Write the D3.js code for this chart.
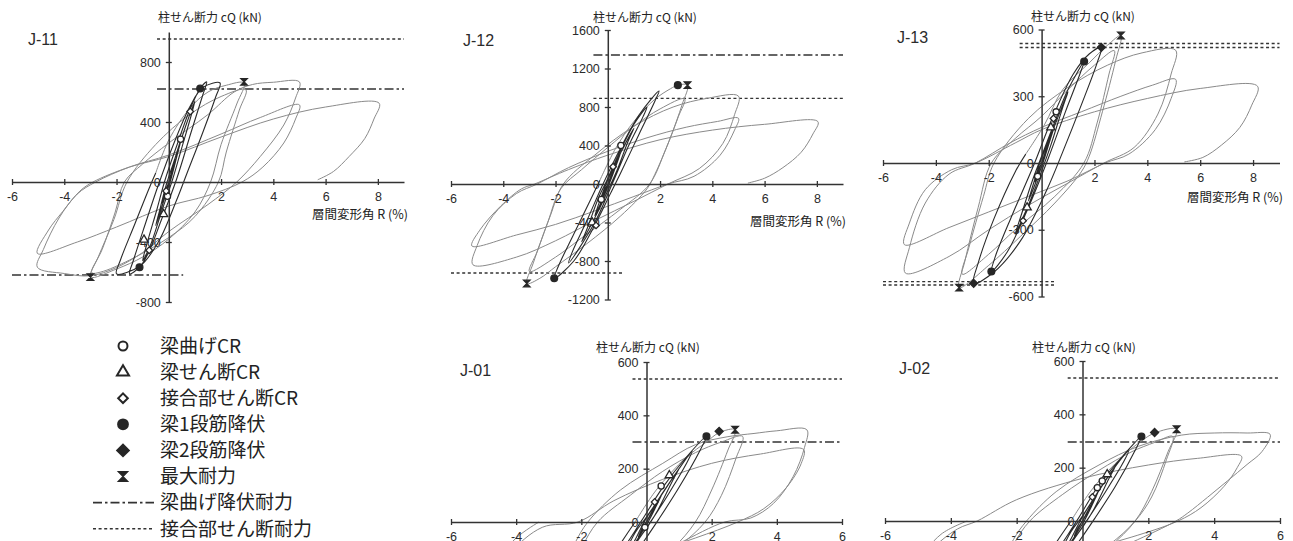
<!DOCTYPE html>
<html>
<head>
<meta charset="utf-8">
<script src="https://cdn.jsdelivr.net/npm/d3@7"></script>
<style>
  html, body { margin: 0; padding: 0; background: #fff; overflow: hidden; }
  svg { display: block; }
  .num { font-family: "Liberation Sans", Arial, sans-serif; fill: #2b2b2b; }
  .jp { font-family: "Noto Sans CJK JP", "Noto Sans", sans-serif; fill: #222; }
</style>
</head>
<body>
<svg id="chart" width="1293" height="541"></svg>
<script>
// ---- data: story drift R (%) vs column shear cQ (kN) ----
const panelNames = ["J-11", "J-12", "J-13", "J-01", "J-02"];
const xTicksWide = [-6, -4, -2, 2, 4, 6, 8];
const xTicksNarrow = [-6, -4, -2, 2, 4, 6];
const yTicks11 = [-800, -400, 0, 400, 800];
const yTicks12 = [-1200, -800, -400, 0, 400, 800, 1200, 1600];
const yTicks13 = [-600, -300, 0, 300, 600];
const yTicks01 = [-600, -400, -200, 0, 200, 400, 600];

const yTitle = "柱せん断力 cQ (kN)";
const xTitle = "層間変形角 R (%)";
const legendLabels = ["梁曲げCR", "梁せん断CR", "接合部せん断CR", "梁1段筋降伏", "梁2段筋降伏", "最大耐力", "梁曲げ降伏耐力", "接合部せん断耐力"];

// early (small) cycles - they overlap and read black
const j11Dark = [
  [0,0],[0.12,75],[0.25,150],[0.12,60],[0,0],[-0.12,-70],[-0.25,-140],[-0.12,-55],[0,0],
  [0.25,165],[0.5,300],[0.35,200],[0.1,30],[-0.2,-130],[-0.5,-290],[-0.35,-190],[-0.1,-20],
  [0.3,190],[0.7,400],[1.0,540],[0.85,440],[0.45,200],[0.15,20],[-0.3,-210],[-0.7,-420],[-1.0,-525],[-0.85,-420],[-0.45,-180],[-0.15,10],
  [0.3,240],[0.8,480],[1.2,623],[1.45,667],[1.3,580],[0.85,330],[0.3,20],[-0.3,-260],[-0.8,-480],[-1.12,-568],[-1.5,-612],[-1.35,-520],[-0.9,-280],[-0.4,-20],
  [0.2,260],[0.8,500],[1.3,630],[1.96,660],[1.8,570],[1.3,330],[0.7,60],[0.3,-120],[-0.4,-400],[-1.1,-560],[-2.0,-612],[-1.85,-520],[-1.3,-280],[-0.7,-20],[-0.5,60]
];
const j11Gray = [
  [-0.5,60],[0,280],[0.8,490],[1.5,600],[2.2,645],[2.88,660],[2.6,520],[2.0,250],[1.6,0],[1.0,-200],[0,-380],[-1.0,-500],[-2.0,-580],[-3.0,-634],[-2.7,-500],[-2.1,-250],[-1.6,0],
  [-0.5,250],[0.8,450],[2.0,570],[2.95,615],[2.7,480],[2.2,200],[1.9,0],[1.0,-230],[0,-370],[-1.5,-520],[-2.6,-600],[-2.95,-605],[-2.55,-450],[-2.05,-200],[-1.7,0],
  [-1.0,120],[0,260],[1.5,450],[2.5,600],[3.2,650],[4.0,665],[5.0,667],[4.85,560],[4.4,380],[3.5,170],[2.6,0],[1.5,-150],[0,-330],[-1.0,-470],[-2.0,-570],[-3.0,-625],[-4.0,-610],[-5.03,-568],[-4.8,-450],[-4.2,-240],[-3.5,-80],[-2.8,0],
  [-1.5,100],[0,180],[2.0,320],[3.5,430],[5.0,514],[4.85,420],[4.4,260],[3.6,100],[2.8,0],[1.5,-90],[0,-160],[-2,-300],[-3.5,-400],[-5.03,-476],[-4.6,-320],[-4.06,-197],[-3.4,-60],[-2.9,0],
  [-1.5,100],[0,170],[2,300],[4,420],[6,500],[8.05,525],[7.85,420],[7.5,290],[6.9,170],[6.3,70],[5.7,15]
];

const j12Dark = [
  [0,0],[0.25,180],[0.12,70],[0,0],[-0.25,-170],[-0.12,-60],[0,0],
  [0.5,330],[0.3,180],[0.05,0],[-0.5,-330],[-0.3,-170],[-0.05,10],
  [0.5,330],[1.0,580],[0.8,460],[0.35,140],[0.05,-40],[-0.4,-300],[-1.0,-600],[-0.8,-470],[-0.35,-140],[-0.05,30],
  [0.4,300],[1.0,620],[1.5,800],[1.35,700],[0.8,400],[0.2,20],[-0.5,-400],[-1.5,-820],[-1.35,-700],[-0.8,-380],[-0.2,-10],
  [0.5,380],[1.2,720],[1.96,966],[1.8,860],[1.2,520],[0.5,120],[0.1,-100],[-0.6,-480],[-1.3,-800],[-2.05,-980],[-1.9,-860],[-1.3,-520],[-0.6,-130],[-0.3,40]
];
const j12Gray = [
  [-0.3,40],[0.3,370],[1.0,650],[1.8,880],[2.4,990],[2.68,1027],[3.05,1027],[2.85,830],[2.35,450],[1.8,100],[1.5,-50],[0.5,-330],[-0.8,-620],[-2.0,-860],[-2.6,-980],[-3.1,-1034],[-2.85,-820],[-2.3,-400],[-1.8,-50],
  [-1.0,150],[0,380],[1.0,600],[2.0,780],[2.94,885],[2.7,700],[2.2,350],[1.6,0],[0.5,-260],[-1.0,-560],[-2.0,-760],[-3.0,-910],[-2.7,-700],[-2.2,-330],[-1.7,0],
  [-0.5,300],[1.0,600],[2.5,800],[3.8,890],[5.0,913],[4.85,720],[4.4,420],[3.5,160],[2.3,0],[1.0,-180],[-0.5,-380],[-2.0,-590],[-3.5,-760],[-5.16,-839],[-5.0,-640],[-4.4,-330],[-3.5,-100],[-2.7,0],
  [-1.5,170],[0,340],[1.5,480],[3.0,590],[4.2,650],[5.0,683],[4.85,560],[4.3,300],[3.3,80],[2.3,0],[1.0,-130],[-0.5,-280],[-2.0,-420],[-3.5,-530],[-5.2,-644],[-4.9,-480],[-4.1,-230],[-3.3,-50],[-2.8,0],
  [-1.5,150],[0,300],[2,460],[4,560],[6,620],[8.04,648],[7.85,520],[7.4,330],[6.7,170],[6.0,60],[5.36,10]
];

const j13Dark = [
  [0,0],[0.25,90],[0.12,35],[0,0],[-0.25,-85],[-0.12,-30],[0,0],
  [0.5,170],[0.3,95],[0.05,0],[-0.5,-170],[-0.3,-90],[-0.05,5],
  [0.5,170],[1.0,320],[0.8,250],[0.35,80],[0.05,-20],[-0.4,-160],[-1.0,-320],[-0.8,-245],[-0.35,-80],[-0.05,15],
  [0.45,170],[1.0,330],[1.61,456],[1.45,400],[0.9,230],[0.25,20],[-0.5,-200],[-1.3,-400],[-1.9,-488],[-1.75,-420],[-1.1,-230],[-0.3,-10],
  [0.4,200],[1.2,400],[1.8,490],[2.26,520],[2.1,450],[1.5,260],[0.8,50],[0.2,-120],[-0.8,-350],[-1.8,-490],[-2.57,-541],[-2.4,-450],[-1.8,-250],[-1.0,-40],[-0.6,40]
];
const j13Gray = [
  [-0.6,40],[0.1,170],[0.8,330],[1.8,450],[2.5,530],[3.0,573],[2.8,460],[2.3,230],[1.8,30],[1.5,-40],[0.5,-180],[-0.8,-330],[-2.0,-460],[-3.12,-560],[-2.9,-440],[-2.4,-200],[-1.9,0],
  [-1.0,110],[0,210],[1.0,330],[2.0,440],[2.75,505],[2.55,400],[2.1,180],[1.6,0],[0.5,-150],[-1.0,-300],[-2.0,-410],[-3.0,-500],[-2.75,-380],[-2.2,-150],[-1.8,0],
  [-0.5,200],[1.0,340],[2.5,440],[3.8,495],[5.07,507],[4.9,400],[4.4,220],[3.5,70],[2.36,0],[1.0,-90],[-0.5,-190],[-2.0,-300],[-3.5,-420],[-5.15,-495],[-5.0,-380],[-4.4,-180],[-3.5,-50],[-2.5,0],
  [-1.2,90],[0,160],[1.5,230],[3.0,300],[4.2,350],[5.07,376],[4.9,290],[4.3,150],[3.3,40],[2.4,0],[1.0,-80],[-0.5,-150],[-2.0,-220],[-3.5,-290],[-5.19,-367],[-5.0,-270],[-4.4,-120],[-3.4,-30],[-2.5,0],
  [-1.0,90],[0,150],[2,230],[4,290],[6,335],[8.17,345],[7.95,260],[7.5,160],[6.8,80],[6.1,25],[5.4,5]
];

const j01Dark = [
  [0,0],[0.25,60],[0.12,25],[0,0],[-0.25,-55],[-0.12,-22],[0,0],
  [0.5,110],[0.3,60],[0.05,0],[-0.5,-105],[-0.3,-55],[-0.05,5],
  [0.5,110],[1.0,200],[0.8,155],[0.35,45],[0.05,-15],[-0.4,-90],[-1.0,-200],[-0.8,-150],[-0.35,-40],[-0.05,10],
  [0.4,90],[1.0,200],[1.4,265],[1.25,225],[0.7,110],[0.15,5],[-0.5,-110],[-1.4,-260],[-1.25,-215],[-0.7,-100],[-0.15,5],
  [0.5,130],[1.2,240],[1.84,321],[1.65,270],[1.0,130],[0.4,15],[-0.3,-110],[-1.2,-250],[-1.84,-315],[-1.65,-260],[-1.0,-120],[-0.35,0]
];
const j01Gray = [
  [-0.35,0],[0.3,120],[1.2,240],[1.84,300],[2.23,335],[2.72,346],[2.5,270],[2.0,120],[1.5,0],[0.8,-100],[-0.5,-220],[-1.6,-300],[-2.7,-340],[-2.5,-250],[-2.0,-100],[-1.5,0],
  [-0.5,100],[0.5,190],[1.5,260],[2.3,300],[2.95,321],[2.75,240],[2.3,100],[1.8,0],[1.0,-90],[0,-170],[-1.5,-260],[-2.9,-320],[-2.7,-220],[-2.2,-80],[-1.8,0],
  [-0.8,120],[0.5,220],[1.5,290],[2.5,320],[3.3,332],[4.0,342],[4.92,346],[4.85,280],[4.5,170],[3.9,70],[3.2,15],[2.4,0],[1.0,-80],[-0.5,-170],[-2.0,-260],[-3.5,-310],[-4.9,-330],[-4.8,-250],[-4.2,-120],[-3.2,-20],[-2.1,0],
  [-1.0,80],[0.5,160],[2.0,220],[3.5,255],[4.82,272],[4.75,220],[4.3,130],[3.6,50],[2.8,0],[1.5,-60],[0,-120],[-2.0,-190],[-4.0,-240],[-5.0,-260],[-4.8,-180],[-4.0,-60],[-3.3,0]
];

const j02Dark = [
  [0,0],[0.25,60],[0.12,25],[0,0],[-0.25,-55],[-0.12,-22],[0,0],
  [0.5,115],[0.3,62],[0.05,0],[-0.5,-105],[-0.3,-55],[-0.05,5],
  [0.5,115],[1.0,205],[0.8,158],[0.35,45],[0.05,-15],[-0.4,-90],[-1.0,-200],[-0.8,-150],[-0.35,-40],[-0.05,10],
  [0.4,95],[1.0,205],[1.4,262],[1.25,222],[0.7,110],[0.15,5],[-0.5,-110],[-1.4,-255],[-1.25,-212],[-0.7,-100],[-0.15,5],
  [0.5,135],[1.2,240],[1.79,317],[1.6,265],[1.0,130],[0.4,15],[-0.3,-110],[-1.2,-250],[-1.8,-310],[-1.6,-255],[-1.0,-120],[-0.35,0]
];
const j02Gray = [
  [-0.35,0],[0.3,120],[1.2,240],[1.79,300],[2.19,330],[2.86,344],[2.6,260],[2.1,110],[1.6,0],[0.8,-100],[-0.5,-220],[-1.6,-300],[-2.8,-335],[-2.6,-240],[-2.1,-90],[-1.6,0],
  [-0.6,100],[0.5,190],[1.5,260],[2.2,295],[2.74,317],[2.55,230],[2.1,90],[1.6,0],[0.8,-90],[-0.3,-170],[-1.6,-260],[-2.8,-315],[-2.6,-210],[-2.1,-70],[-1.7,0],
  [-0.8,110],[0.5,210],[1.7,280],[3.0,322],[4.0,330],[5.0,330],[5.7,325],[5.45,260],[5.0,212],[4.4,150],[3.8,89],[3.2,30],[2.84,0],[1.5,-80],[0,-160],[-2.0,-250],[-3.5,-300],[-5.5,-320],[-5.3,-240],[-4.6,-110],[-3.8,-30],[-3.2,0],
  [-2.0,80],[0,160],[2.0,210],[3.5,235],[4.83,243],[4.7,200],[4.3,130],[3.6,50],[2.9,0],[1.5,-60],[0,-110],[-2,-170],[-4,-220],[-5.3,-240],[-5.1,-170],[-4.3,-50],[-3.5,0]
];

// event markers: [legend index, R, Q]
const j11Marks = [[0,0.45,285],[0,-0.05,-95],[1,-0.2,-215],[1,-0.95,-385],[2,0.82,470],[2,-0.75,-455],[2,-0.1,-60],[3,1.2,623],[3,-1.12,-568],[5,2.88,668],[5,-3.0,-634]];
const j12Marks = [[0,0.5,400],[0,-0.25,-160],[1,-0.6,-400],[2,0.2,180],[2,-0.45,-430],[3,2.68,1027],[3,-2.05,-980],[5,3.05,1027],[5,-3.1,-1034]];
const j13Marks = [[0,0.55,230],[0,-0.15,-60],[1,-0.55,-200],[1,0.35,160],[2,0.45,200],[2,-0.7,-260],[3,1.61,456],[4,2.26,520],[3,-1.9,-488],[4,-2.57,-541],[5,3.0,573],[5,-3.12,-560]];
const j01Marks = [[0,0.45,135],[2,0.25,75],[1,0.7,175],[0,-0.05,-20],[3,1.84,321],[4,2.23,340],[5,2.72,346]];
const j02Marks = [[0,0.45,125],[0,0.6,150],[2,0.3,90],[1,0.75,175],[3,1.79,317],[4,2.19,332],[5,2.86,344]];

// strength lines: [Q, R from, R to, kind]  kind 6 = 梁曲げ降伏耐力, 7 = 接合部せん断耐力
const j11Ref = [[953,-0.45,9,7],[620,-0.45,9,6],[-620,-6,0.55,6]];
const j12Ref = [[1340,-0.55,9,6],[890,-0.55,9,7],[-925,-6,0.55,7]];
const j13Ref = [[537,-0.83,9,7],[519,-0.83,9,7],[-533,-6,0.55,7],[-548,-6,0.55,7]];
const j01Ref = [[536,-0.43,6,7],[300,-0.43,6,6]];
const j02Ref = [[536,-0.45,6,7],[296,-0.45,6,6]];

const panels = [
  { name: panelNames[0], dark: j11Dark, gray: j11Gray, marks: j11Marks, refs: j11Ref, xTicks: xTicksWide, yTicks: yTicks11, xDom: [-6, 9], yDom: [-800, 1000] },
  { name: panelNames[1], dark: j12Dark, gray: j12Gray, marks: j12Marks, refs: j12Ref, xTicks: xTicksWide, yTicks: yTicks12, xDom: [-6, 9], yDom: [-1200, 1600] },
  { name: panelNames[2], dark: j13Dark, gray: j13Gray, marks: j13Marks, refs: j13Ref, xTicks: xTicksWide, yTicks: yTicks13, xDom: [-6, 9], yDom: [-600, 600] },
  { name: panelNames[3], dark: j01Dark, gray: j01Gray, marks: j01Marks, refs: j01Ref, xTicks: xTicksNarrow, yTicks: yTicks01, xDom: [-6, 6], yDom: [-600, 600] },
  { name: panelNames[4], dark: j02Dark, gray: j02Gray, marks: j02Marks, refs: j02Ref, xTicks: xTicksNarrow, yTicks: yTicks01, xDom: [-6, 6], yDom: [-600, 600] }
];

// ---- layout (pixels) ----
const layout = {
  "J-11": { xr: [12, 404],    yr: [302, 32],    title: [210, 22],   xt: [408, 219],  lab: [28, 45] },
  "J-12": { xr: [451, 843],   yr: [299.5, 30],  title: [645, 22],   xt: [846, 226],  lab: [463, 46] },
  "J-13": { xr: [883, 1279.5],yr: [296.5, 29.5],title: [1083, 21],  xt: [1283, 202], lab: [897, 43] },
  "J-01": { xr: [451, 842],   yr: [682, 362],   title: [648, 352],  xt: [846, 557],  lab: [460, 376] },
  "J-02": { xr: [885, 1280],  yr: [681, 361],   title: [1084, 352], xt: [1283, 557], lab: [899, 374] }
};
const legendPos = { markX: 123, textX: 160, lineX: [93, 154], y0: 346, step: 26.1 };

const svg = d3.select("#chart");
const ink = "#262626";
const fmt = d => String(d);

function drawMark(g, kind, cx, cy, big) {
  const k = big ? 1.45 : 1;
  if (kind === 5) {
    const s = 3.3 * k;
    g.append("path")
      .attr("d", `M${cx - s},${cy - s}H${cx + s}L${cx - s},${cy + s}H${cx + s}Z`)
      .attr("fill", ink).attr("stroke", ink).attr("stroke-width", 1.2);
    return;
  }
  // diamonds are squares turned 45 degrees
  const types = [d3.symbolCircle, d3.symbolTriangle, d3.symbolSquare, d3.symbolCircle, d3.symbolSquare];
  const sizes = [30, 30, 22, 36, 32];
  const rot = (kind === 2 || kind === 4) ? 45 : 0;
  const filled = kind >= 3;
  g.append("path")
    .attr("d", d3.symbol(types[kind], sizes[kind] * k * k)())
    .attr("transform", `translate(${cx},${cy}) rotate(${rot})`)
    .attr("fill", filled ? ink : "#fff")
    .attr("stroke", ink)
    .attr("stroke-width", big ? 2 : 1.3);
}

function refStyle(sel, kind) {
  sel.attr("stroke", "#333").attr("fill", "none")
    .attr("stroke-width", kind === 6 ? 1.6 : 1.4)
    .attr("stroke-dasharray", kind === 6 ? "9,3,2.5,3" : "3,2.6");
}

panels.forEach(p => {
  const L = layout[p.name];
  const x = d3.scaleLinear().domain(p.xDom).range(L.xr);
  const y = d3.scaleLinear().domain(p.yDom).range(L.yr);
  const g = svg.append("g").attr("class", "panel");

  // strength lines
  p.refs.forEach(r => {
    g.append("line")
      .attr("x1", x(r[1])).attr("x2", x(r[2]))
      .attr("y1", y(r[0])).attr("y2", y(r[0]))
      .call(refStyle, r[3]);
  });

  const line = d3.line()
    .x(d => x(d[0])).y(d => y(d[1]))
    .curve(d3.curveCatmullRom.alpha(0.5));

  g.append("path").datum(p.gray).attr("d", line)
    .attr("fill", "none").attr("stroke", "#8a8a8a").attr("stroke-width", 1);
  g.append("path").datum(p.dark).attr("d", line)
    .attr("fill", "none").attr("stroke", "#2a2a2a").attr("stroke-width", 1.1);

  // axes crossing at the origin
  const xAxis = g.append("g")
    .attr("transform", `translate(0,${y(0)})`)
    .call(d3.axisBottom(x).tickValues(p.xTicks).tickFormat(fmt).tickSize(3).tickSizeOuter(0).tickPadding(7));
  xAxis.selectAll(".tick line").attr("y1", -3).attr("y2", 3);

  const yAxis = g.append("g")
    .attr("transform", `translate(${x(0)},0)`)
    .call(d3.axisLeft(y).tickValues(p.yTicks).tickFormat(fmt).tickSize(3).tickSizeOuter(0).tickPadding(5));
  yAxis.selectAll(".tick line").attr("x1", -3).attr("x2", 3);

  [xAxis, yAxis].forEach(a => {
    a.select(".domain").attr("stroke", "#333").attr("stroke-width", 1.5);
    a.selectAll(".tick line").attr("stroke", "#333").attr("stroke-width", 1.3);
    a.selectAll("text").attr("class", "num").attr("font-size", 12.5).attr("fill", "#2b2b2b");
  });

  p.marks.forEach(m => drawMark(g, m[0], x(m[1]), y(m[2]), false));

  g.append("text").attr("class", "jp")
    .attr("x", L.title[0]).attr("y", L.title[1])
    .attr("text-anchor", "middle").attr("font-size", 12)
    .text(yTitle);
  g.append("text").attr("class", "jp")
    .attr("x", L.xt[0]).attr("y", L.xt[1])
    .attr("text-anchor", "end").attr("font-size", 12.5)
    .text(xTitle);
  g.append("text").attr("class", "num")
    .attr("x", L.lab[0]).attr("y", L.lab[1])
    .attr("font-size", 16)
    .text(p.name);
});

// legend
const lg = svg.append("g").attr("class", "legend");
legendLabels.forEach((label, i) => {
  const cy = legendPos.y0 + i * legendPos.step;
  if (i < 6) {
    drawMark(lg, i, legendPos.markX, cy, true);
  } else {
    lg.append("line")
      .attr("x1", legendPos.lineX[0]).attr("x2", legendPos.lineX[1])
      .attr("y1", cy).attr("y2", cy)
      .call(refStyle, i);
  }
  lg.append("text").attr("class", "jp")
    .attr("x", legendPos.textX).attr("y", cy)
    .attr("dy", "0.36em").attr("font-size", 19)
    .text(label);
});
</script>
</body>
</html>
